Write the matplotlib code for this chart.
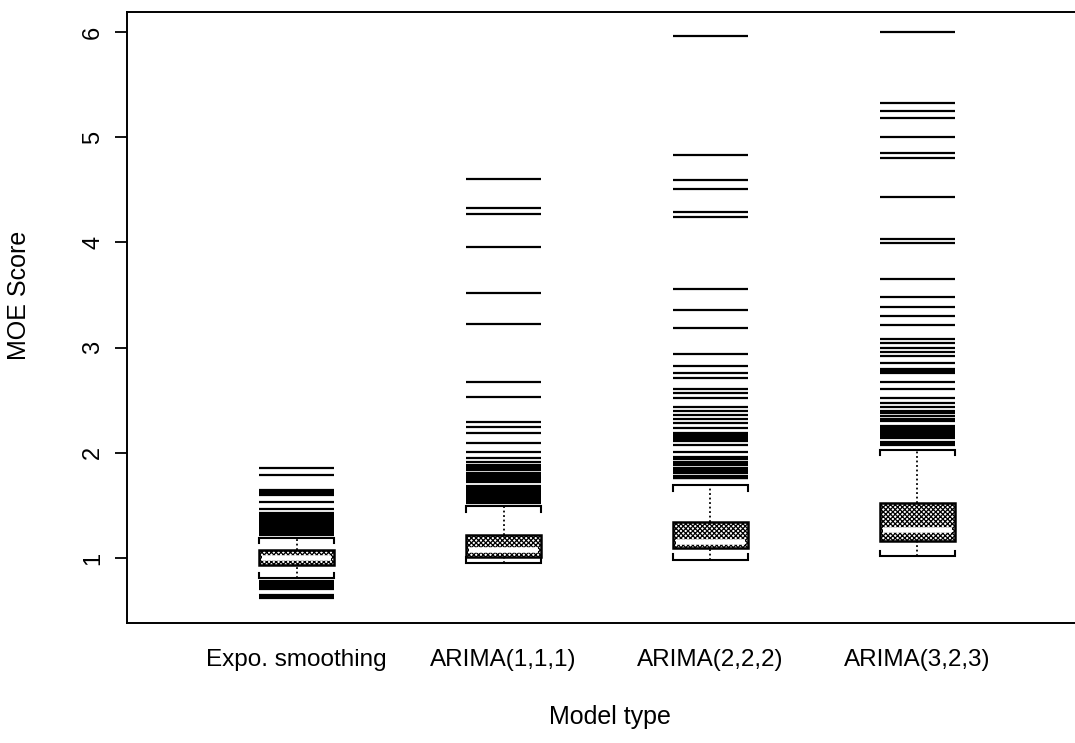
import matplotlib
matplotlib.use("Agg")
import matplotlib.pyplot as plt

plt.rcParams['font.family'] = ['Liberation Sans', 'DejaVu Sans']
plt.rcParams['hatch.linewidth'] = 0.9

# ---------------- data ----------------
categories = ["Expo. smoothing", "ARIMA(1,1,1)", "ARIMA(2,2,2)", "ARIMA(3,2,3)"]
whislo = [0.81, 0.955, 0.985, 1.02]
q1 = [0.935, 1.01, 1.095, 1.16]
med = [1.0, 1.075, 1.155, 1.27]
q3 = [1.075, 1.22, 1.34, 1.52]
whishi = [1.19, 1.49, 1.69, 2.03]

out_expo = [1.855, 1.79, 1.645, 1.63, 1.615, 1.60, 1.53, 1.465,
            1.43, 1.415, 1.40, 1.385, 1.37, 1.355, 1.34, 1.325, 1.31,
            1.295, 1.28, 1.265, 1.25, 1.235, 1.22,
            0.785, 0.77, 0.755, 0.735, 0.72, 0.705, 0.65, 0.635, 0.62]
out_arima111 = [4.603, 4.324, 4.267, 3.953, 3.516, 3.224, 2.670, 2.533,
                2.296, 2.249, 2.185, 2.097, 2.01, 1.947, 1.915,
                1.885, 1.87, 1.855, 1.84, 1.81, 1.795, 1.78, 1.765, 1.75,
                1.735, 1.72, 1.685, 1.67, 1.655, 1.64, 1.625, 1.61, 1.595,
                1.58, 1.565, 1.55, 1.535, 1.52]
out_arima222 = [5.965, 4.83, 4.593, 4.508, 4.292, 4.245, 3.554, 3.357,
                3.183, 2.939, 2.825, 2.755, 2.713, 2.603, 2.566, 2.524,
                2.438, 2.40, 2.359, 2.321, 2.28, 2.24,
                2.185, 2.17, 2.155, 2.14, 2.125, 2.11, 2.07, 2.01,
                1.96, 1.945, 1.915, 1.90, 1.885, 1.855, 1.84, 1.825, 1.81,
                1.78, 1.765, 1.757]
out_arima323 = [6.003, 5.322, 5.249, 5.18, 5.0, 4.847, 4.805, 4.434,
                4.032, 3.997, 3.649, 3.484, 3.389, 3.30, 3.215, 3.082,
                3.041, 3.0, 2.961, 2.923, 2.85, 2.80, 2.785, 2.77, 2.755,
                2.676, 2.603, 2.524, 2.477, 2.438, 2.395, 2.38, 2.35, 2.32,
                2.30, 2.25, 2.235, 2.22, 2.205, 2.19, 2.175, 2.16, 2.145,
                2.105, 2.09, 2.075]
outliers = [out_expo, out_arima111, out_arima222, out_arima323]

yticks = [1, 2, 3, 4, 5, 6]
xlabel = "Model type"
ylabel = "MOE Score"

# ---------------- figure ----------------
W, H = 1075, 743
fig = plt.figure(figsize=(W / 100, H / 100), dpi=100)
ax = fig.add_axes([127 / W, 120 / H, 960 / W, 611 / H])

bw = 0.36
hook = 0.05
for i, name in enumerate(categories):
    x = i + 1
    # outliers as horizontal lines
    ax.hlines(outliers[i], x - bw / 2, x + bw / 2, colors='black', lw=1.6)
    # whiskers
    ax.vlines(x, q3[i], whishi[i], colors='black', lw=1.3, linestyles=(0, (1, 1.5)))
    ax.vlines(x, whislo[i], q1[i], colors='black', lw=1.3, linestyles=(0, (1, 1.5)))
    # caps with hooks
    ax.plot([x - bw / 2, x - bw / 2, x + bw / 2, x + bw / 2],
            [whishi[i] - hook, whishi[i], whishi[i], whishi[i] - hook],
            color='black', lw=1.5, solid_joinstyle='miter')
    ax.plot([x - bw / 2, x - bw / 2, x + bw / 2, x + bw / 2],
            [whislo[i] + hook, whislo[i], whislo[i], whislo[i] + hook],
            color='black', lw=1.5, solid_joinstyle='miter')
    # box
    ax.bar(x, q3[i] - q1[i], bottom=q1[i], width=bw, facecolor='white',
           edgecolor='black', hatch='x' * 7, lw=1.8, zorder=3)
    # median as a white band
    ax.hlines(med[i], x - bw / 2 + 0.012, x + bw / 2 - 0.012, colors='white',
              lw=4.0, zorder=4)

ax.set_xlim(0.18, 4.82)
ax.set_ylim(0.382, 6.19)
ax.set_xticks(range(1, len(categories) + 1))
ax.set_xticklabels(categories, fontsize=17.5)
ax.set_yticks(yticks)
ax.set_yticklabels([str(v) for v in yticks], fontsize=17, rotation=90, va='center')
ax.tick_params(axis='x', length=0, pad=19)
ax.tick_params(axis='y', length=9, width=1.3, pad=7.5, direction='out')

ax.set_xlabel(xlabel, fontsize=18)
ax.set_ylabel(ylabel, fontsize=18)
ax.xaxis.set_label_coords((610 - 127) / 960, (623 - 705) / 611)
ax.yaxis.set_label_coords((31 - 127) / 960, (623 - 295) / 611)

for s in ax.spines.values():
    s.set_linewidth(1.4)

fig.savefig("out.png", dpi=100)
